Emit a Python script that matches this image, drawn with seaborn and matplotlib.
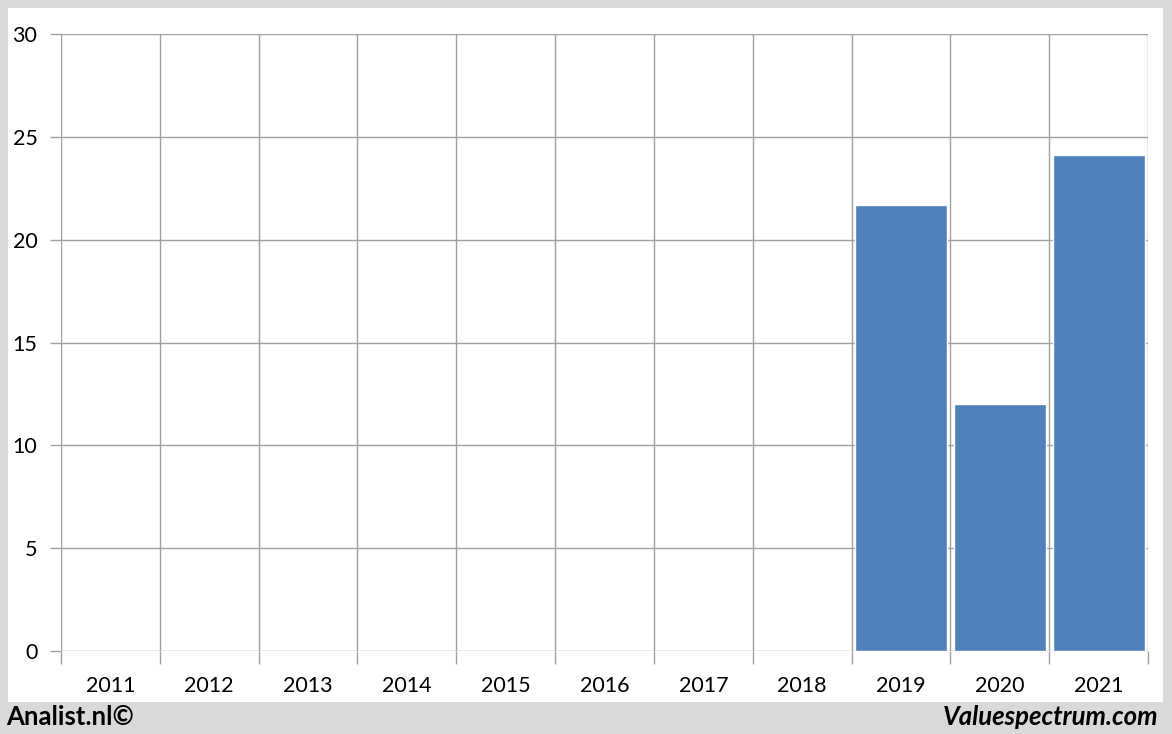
import numpy as np
import pandas as pd
import matplotlib
matplotlib.use("Agg")
import matplotlib.pyplot as plt
import seaborn as sns
from matplotlib.patches import Rectangle

years = ['2011', '2012', '2013', '2014', '2015', '2016', '2017', '2018', '2019', '2020', '2021']
values = [np.nan, np.nan, np.nan, np.nan, np.nan, np.nan, np.nan, np.nan, 21.7, 12.0, 24.1]
yticks = [0, 5, 10, 15, 20, 25, 30]

df = pd.DataFrame({'year': years, 'value': values})

sns.set_style("white")
plt.rcParams['font.family'] = ['Lato', 'DejaVu Sans']

W, H = 1172, 734
fig = plt.figure(figsize=(W / 100, H / 100), dpi=100, facecolor='#d9d9d9')
# white inner panel
fig.patches.append(Rectangle((8 / W, 1 - 702 / H), (1163 - 8) / W, (702 - 8) / H,
                             transform=fig.transFigure, facecolor='white',
                             edgecolor='none', zorder=-5))

ax = fig.add_axes([61 / W, 1 - 651 / H, (1148 - 61) / W, (651 - 34) / H])
ax.set_zorder(2)
ax.set_facecolor('none')

sns.barplot(data=df, x='year', y='value', color='#4f81bd', saturation=1,
            width=0.93, ax=ax, zorder=3)

ax.set_xlim(-0.5, len(years) - 0.5)
ax.set_ylim(0, 30)
ax.set_yticks(yticks)
ax.set_xticks(np.arange(-0.5, len(years)), minor=True)

ax.grid(False)
ax.yaxis.grid(True, color='#a0a0a0', linewidth=1.0, zorder=0)
ax.xaxis.grid(True, which='minor', color='#a0a0a0', linewidth=1.0, zorder=0)
ax.set_axisbelow(True)
for s in ax.spines.values():
    s.set_visible(False)

ax.tick_params(axis='x', which='major', length=0, pad=18, labelsize=15.5, colors='black')
ax.tick_params(axis='x', which='minor', length=9, width=1.0, color='#a0a0a0', bottom=True)
ax.tick_params(axis='y', which='major', length=8, width=1.0, color='#a0a0a0', pad=9,
               labelsize=15.5, left=True, labelcolor='black')
ax.set_xlabel('')
ax.set_ylabel('')

fig.text(6 / W, 1 - 717 / H, 'Analist.nl©', fontsize=18.5, fontweight='bold',
         ha='left', va='center', color='black')
fig.text(1158 / W, 1 - 717 / H, 'Valuespectrum.com', fontsize=18.5, fontweight='bold',
         fontstyle='italic', ha='right', va='center', color='black')

fig.savefig('out.png', dpi=100, facecolor=fig.get_facecolor())
